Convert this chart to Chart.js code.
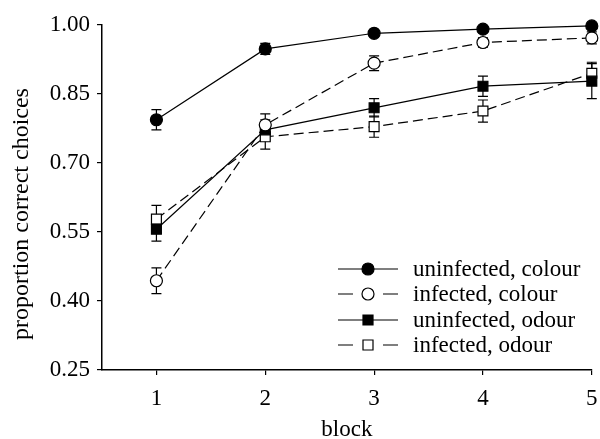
<!DOCTYPE html>
<html>
<head>
<meta charset="utf-8">
<script src="https://cdn.jsdelivr.net/npm/chart.js@4"></script>
<style>
  html, body { margin: 0; padding: 0; background: #fff; }
  #wrap { width: 600px; height: 439px; }
</style>
</head>
<body>
<div id="wrap"><canvas id="chart" width="600" height="439"></canvas></div>
<script>
// data
const blocks = [1, 2, 3, 4, 5];
const seriesNames = ["uninfected, colour", "infected, colour", "uninfected, odour", "infected, odour"];
const uninfColour = [0.794, 0.948, 0.982, 0.991, 0.998];
const uninfColourErr = [0.022, 0.012, 0.007, 0.006, 0.005];
const infColour = [0.444, 0.783, 0.917, 0.962, 0.972];
const infColourErr = [0.028, 0.024, 0.016, 0.010, 0.013];
const uninfOdour = [0.556, 0.772, 0.820, 0.867, 0.878];
const uninfOdourErr = [0.026, 0.022, 0.020, 0.022, 0.038];
const infOdour = [0.578, 0.757, 0.779, 0.813, 0.895];
const infOdourErr = [0.030, 0.027, 0.023, 0.024, 0.024];
const yTicks = [0.25, 0.40, 0.55, 0.70, 0.85, 1.00];
const xTitle = "block";
const yTitle = "proportion correct choices";

const FONT = "'Liberation Serif', 'DejaVu Serif', serif";

function makeSet(name, values, errs, style, filled, dashed) {
  return {
    label: name,
    data: blocks.map((b, i) => ({ x: b, y: values[i] })),
    errors: errs,
    borderColor: "#000",
    borderWidth: 1.2,
    borderDash: dashed ? [10, 5] : [],
    pointStyle: style,
    pointRadius: style === "circle" ? 6 : 7,
    pointBackgroundColor: filled ? "#000" : "#fff",
    pointBorderColor: "#000",
    pointBorderWidth: 1.2,
    filled: filled,
    dashed: dashed,
    tension: 0,
    clip: false,
  };
}

// error bars drawn under the markers
const errorBars = {
  id: "errorBars",
  beforeDatasetsDraw(chart) {
    const ctx = chart.ctx;
    const xs = chart.scales.x, ys = chart.scales.y;
    ctx.save();
    ctx.strokeStyle = "#000";
    ctx.lineWidth = 1.2;
    chart.data.datasets.forEach(ds => {
      ds.data.forEach((p, i) => {
        const e = ds.errors[i];
        const px = xs.getPixelForValue(p.x);
        const top = ys.getPixelForValue(p.y + e);
        const bot = ys.getPixelForValue(p.y - e);
        ctx.beginPath();
        ctx.moveTo(px, top); ctx.lineTo(px, bot);
        ctx.moveTo(px - 5, top); ctx.lineTo(px + 5, top);
        ctx.moveTo(px - 5, bot); ctx.lineTo(px + 5, bot);
        ctx.stroke();
      });
    });
    ctx.restore();
  }
};

// axis titles, placed where the figure has them
const axisTitles = {
  id: "axisTitles",
  afterDraw(chart) {
    const ctx = chart.ctx;
    const area = chart.chartArea;
    ctx.save();
    ctx.fillStyle = "#000";
    ctx.textAlign = "center";
    ctx.textBaseline = "middle";
    ctx.font = "23px " + FONT;
    ctx.fillText(xTitle, (area.left + area.right) / 2, 430);
    ctx.translate(22, 214);
    ctx.rotate(-Math.PI / 2);
    ctx.font = "24px " + FONT;
    ctx.fillText(yTitle, 0, 0);
    ctx.restore();
  }
};

// line + marker legend in the lower right
const sampleLegend = {
  id: "sampleLegend",
  afterDraw(chart) {
    const ctx = chart.ctx;
    const x0 = 338, x1 = 398, mx = 368, tx = 413;
    const rowY = [269, 294, 320, 345];
    ctx.save();
    ctx.strokeStyle = "#000";
    ctx.lineWidth = 1.2;
    chart.data.datasets.forEach((ds, i) => {
      const y = rowY[i];
      ctx.beginPath();
      if (ds.dashed) {
        ctx.moveTo(x0, y); ctx.lineTo(x0 + 15, y);
        ctx.moveTo(x1 - 15, y); ctx.lineTo(x1, y);
      } else {
        ctx.moveTo(x0, y); ctx.lineTo(x1, y);
      }
      ctx.stroke();
      ctx.beginPath();
      if (ds.pointStyle === "circle") {
        ctx.arc(mx, y, 6, 0, Math.PI * 2);
      } else {
        ctx.rect(mx - 5, y - 5, 10, 10);
      }
      ctx.fillStyle = ds.filled ? "#000" : "#fff";
      ctx.fill();
      ctx.stroke();
      ctx.fillStyle = "#000";
      ctx.font = "23px " + FONT;
      ctx.textBaseline = "middle";
      ctx.textAlign = "left";
      ctx.fillText(ds.label, tx, y + 1);
    });
    ctx.restore();
  }
};

new Chart(document.getElementById("chart").getContext("2d"), {
  type: "line",
  data: {
    datasets: [
      makeSet(seriesNames[0], uninfColour, uninfColourErr, "circle", true, false),
      makeSet(seriesNames[1], infColour, infColourErr, "circle", false, true),
      makeSet(seriesNames[2], uninfOdour, uninfOdourErr, "rect", true, false),
      makeSet(seriesNames[3], infOdour, infOdourErr, "rect", false, true),
    ],
  },
  options: {
    responsive: false,
    animation: false,
    layout: { padding: { top: 25, right: 3, left: 0, bottom: 0 } },
    plugins: {
      legend: { display: false },
      tooltip: { enabled: false },
    },
    scales: {
      x: {
        type: "linear",
        min: 0.5,
        max: 5,
        afterBuildTicks(scale) {
          scale.ticks = blocks.map(v => ({ value: v }));
        },
        afterFit(scale) {
          scale.height = 69;
          scale.paddingLeft = 0;
          scale.paddingRight = 0;
        },
        grid: { display: true, drawOnChartArea: false, drawTicks: true, tickLength: 5, color: "#000", lineWidth: 1.2 },
        border: { display: true, color: "#000", width: 1.5 },
        ticks: {
          color: "#000",
          padding: 10,
          font: { family: FONT, size: 23 },
          callback: v => String(v),
        },
      },
      y: {
        min: 0.25,
        max: 1.0,
        afterBuildTicks(scale) {
          scale.ticks = yTicks.map(v => ({ value: v }));
        },
        afterFit(scale) {
          scale.width = 102;
          scale.paddingTop = 0;
          scale.paddingBottom = 0;
        },
        grid: { display: true, drawOnChartArea: false, drawTicks: true, tickLength: 5, color: "#000", lineWidth: 1.2 },
        border: { display: true, color: "#000", width: 1.5 },
        ticks: {
          color: "#000",
          padding: 7,
          font: { family: FONT, size: 23 },
          callback: v => v.toFixed(2),
        },
      },
    },
  },
  plugins: [errorBars, axisTitles, sampleLegend],
});
</script>
</body>
</html>
